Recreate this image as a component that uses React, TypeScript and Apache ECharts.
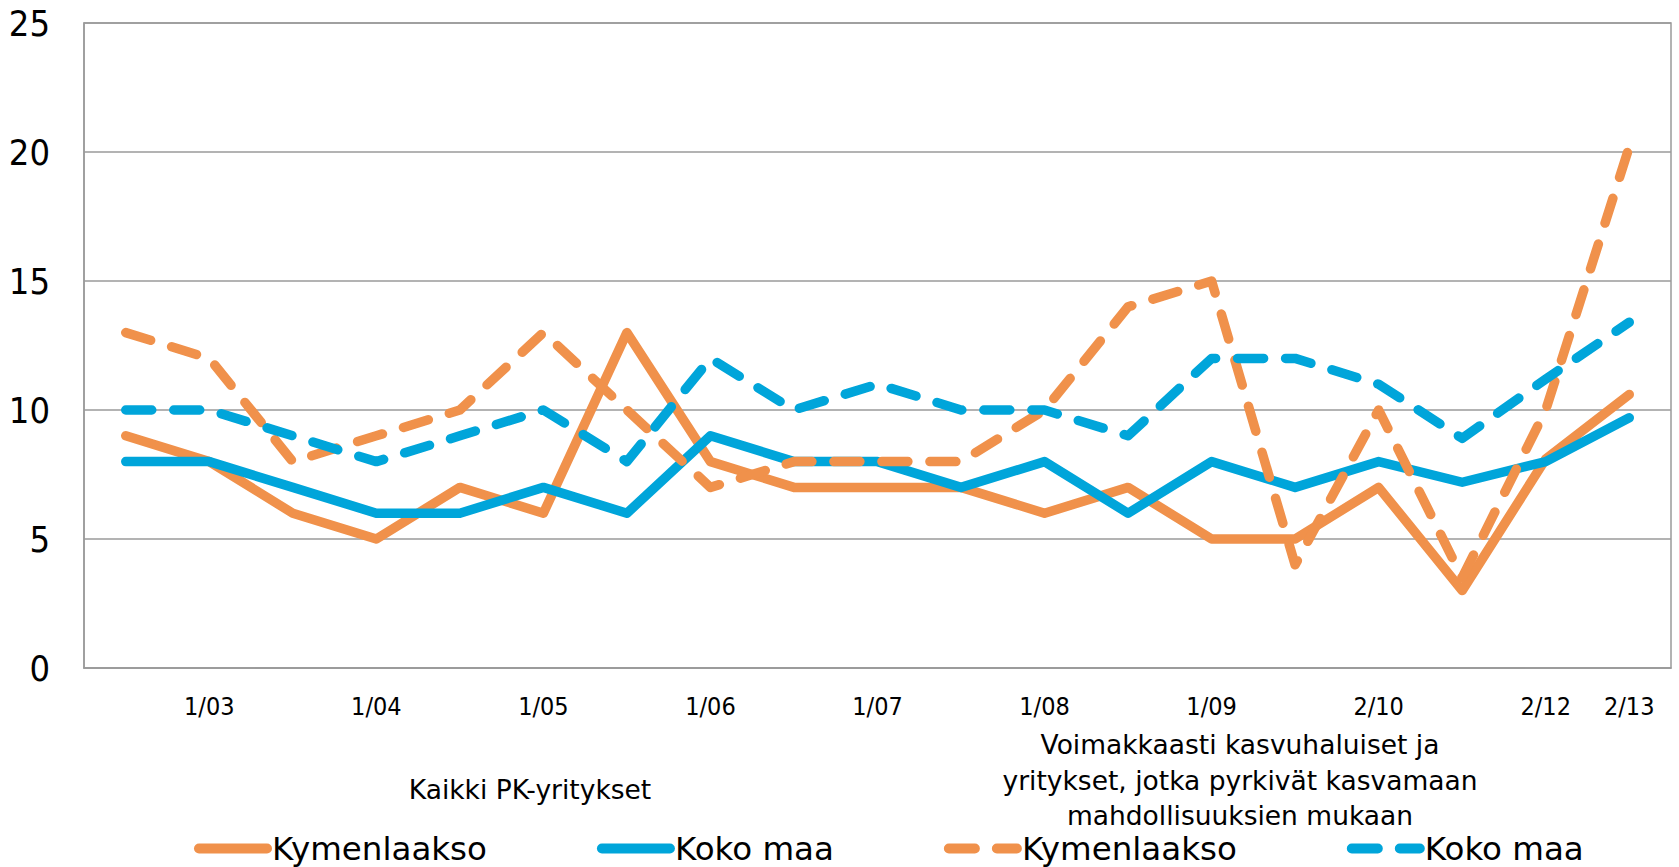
import React, { useEffect, useRef } from "react";
import * as echarts from "echarts";

// ---- data ----
const categories = ["", "1/03", "", "1/04", "", "1/05", "", "1/06", "", "1/07", "", "1/08", "", "1/09", "", "2/10", "", "2/12", "2/13"];
const kymenlaaksoAll = [9, 8, 6, 5, 7, 6, 13, 8, 7, 7, 7, 6, 7, 5, 5, 7, 3, 8.1, 10.6];
const kokoMaaAll = [8, 8, 7, 6, 6, 7, 6, 9, 8, 8, 7, 8, 6, 8, 7, 8, 7.2, 8, 9.7];
const kymenlaaksoGrowth = [13, 12, 8, 9, 10, 13, 10, 7, 8, 8, 8, 10, 14, 15, 4, 10, 3.5, 10, 20.2];
const kokoMaaGrowth = [10, 10, 9, 8, 9, 10, 8, 12, 10, 11, 10, 10, 9, 12, 12, 11, 8.9, 11.2, 13.4];
const legendNames = ["Kymenlaakso", "Koko maa", "Kymenlaakso", "Koko maa"];
const groupLabels = [
  "Kaikki PK-yritykset",
  "Voimakkaasti kasvuhaluiset ja\nyritykset, jotka pyrkivät kasvamaan\nmahdollisuuksien mukaan",
];
const yMin = 0;
const yMax = 25;
const yInterval = 5;

const ORANGE = "#F0914B";
const BLUE = "#00A5DA";
const GRID = "#9a9a9a";
const FONT_COND = "'DejaVu Sans Condensed', 'Liberation Sans Narrow', 'DejaVu Sans', sans-serif";
const FONT_REG = "'DejaVu Sans', sans-serif";

export default function App() {
  const ref = useRef<HTMLDivElement>(null);

  useEffect(() => {
    if (!ref.current) return;
    const chart = echarts.init(ref.current, undefined, { renderer: "svg" });

    const seriesDefs = [
      { data: kymenlaaksoAll, color: ORANGE, dashed: false },
      { data: kokoMaaAll, color: BLUE, dashed: false },
      { data: kymenlaaksoGrowth, color: ORANGE, dashed: true },
      { data: kokoMaaGrowth, color: BLUE, dashed: true },
    ];

    const series = seriesDefs.map((d, i) => ({
      type: "line",
      name: legendNames[i] + "#" + i,
      data: d.data,
      showSymbol: false,
      symbol: "circle",
      symbolSize: 0,
      smooth: false,
      lineStyle: {
        color: d.color,
        width: 9.5,
        cap: "round",
        join: "round",
        type: d.dashed ? [26, 22] : "solid",
      },
      itemStyle: { color: d.color },
      emphasis: { disabled: true },
    }));

    chart.setOption({
      animation: false,
      backgroundColor: "#ffffff",
      grid: {
        left: 84,
        right: 8,
        top: 23,
        bottom: 199,
        show: true,
        borderColor: GRID,
        borderWidth: 1.5,
        containLabel: false,
      },
      xAxis: {
        type: "category",
        data: categories,
        boundaryGap: true,
        axisLine: { show: true, lineStyle: { color: GRID, width: 1.5 } },
        axisTick: { show: false },
        splitLine: { show: false },
        axisLabel: {
          interval: 0,
          margin: 26,
          color: "#000",
          fontSize: 25,
          fontFamily: FONT_COND,
        },
      },
      yAxis: {
        type: "value",
        min: yMin,
        max: yMax,
        interval: yInterval,
        axisLine: { show: true, lineStyle: { color: GRID, width: 1.5 } },
        axisTick: { show: false },
        splitLine: { show: true, lineStyle: { color: GRID, width: 1.5 } },
        axisLabel: {
          margin: 34,
          color: "#000",
          fontSize: 36,
          fontFamily: FONT_COND,
        },
      },
      legend: {
        show: true,
        orient: "horizontal",
        left: 194,
        top: 832,
        padding: 0,
        itemWidth: 68,
        itemHeight: 14,
        itemGap: 110,
        data: legendNames.map((n, i) => n + "#" + i),
        formatter: (name: string) => name.split("#")[0],
        textStyle: { color: "#000", fontSize: 32.5, lineHeight: 30, fontFamily: FONT_REG },
        lineStyle: { width: 10 },
        itemStyle: { opacity: 0, borderWidth: 0 },
        selectedMode: false,
      },
      graphic: [
        {
          type: "text",
          x: 530,
          y: 789,
          style: {
            text: groupLabels[0],
            fill: "#000",
            font: "26.5px " + FONT_REG,
            textAlign: "center",
            textVerticalAlign: "middle",
          },
        },
        {
          type: "text",
          x: 1240,
          y: 780,
          style: {
            text: groupLabels[1],
            fill: "#000",
            font: "26.5px " + FONT_REG,
            lineHeight: 35.5,
            textAlign: "center",
            textVerticalAlign: "middle",
          },
        },
      ],
      series,
    });

    return () => {
      chart.dispose();
    };
  }, []);

  return (
    <div
      ref={ref}
      style={{ position: "fixed", left: 0, top: 0, width: "1679px", height: "867px", background: "#fff" }}
    />
  );
}
